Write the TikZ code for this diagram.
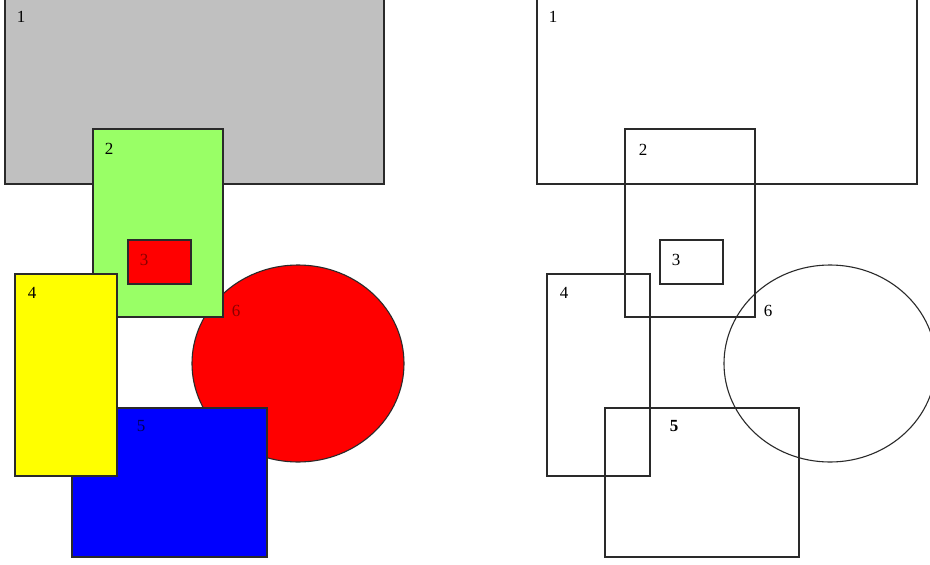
\documentclass[tikz,border=0pt]{standalone}
\usepackage{fontspec}
\setmainfont{Liberation Serif}
\definecolor{shapegray}{HTML}{C0C0C0}
\definecolor{shapegreen}{HTML}{99FF66}
\definecolor{shapered}{HTML}{FF0000}
\definecolor{shapeyellow}{HTML}{FFFF00}
\definecolor{shapeblue}{HTML}{0000FF}
\definecolor{edgecol}{HTML}{2A2A2A}
\definecolor{darkredtxt}{HTML}{8A0000}
\definecolor{darkbluetxt}{HTML}{00005A}
\tikzset{
  shapebox/.style={draw=edgecol, line width=1.3pt, rectangle, inner sep=0pt, outer sep=0pt, anchor=north west},
  shapelabel/.style={font=\fontsize{17}{17}\selectfont, inner sep=0pt, anchor=center, text=black},
}
\begin{document}
\begin{tikzpicture}[x=1pt,y=-1pt]
\useasboundingbox (0,0) rectangle (930,565);
\fill[white] (0,0) rectangle (930,565);
% ---------- left panel ----------
\node[shapebox, fill=shapegray, minimum width=379pt, minimum height=186pt] (L1) at (5,-2) {};
\draw[edgecol, line width=1.1pt, fill=shapered] (298,363.5) ellipse [x radius=106, y radius=98.5];
\node[shapebox, fill=shapegreen, minimum width=130pt, minimum height=188pt] (L2) at (93,129) {};
\node[shapebox, fill=shapered, minimum width=63pt, minimum height=44pt] (L3) at (128,240) {};
\node[shapebox, fill=shapeblue, minimum width=195pt, minimum height=149pt] (L5) at (72,408) {};
\node[shapebox, fill=shapeyellow, minimum width=102pt, minimum height=202pt] (L4) at (15,274) {};
\node[shapelabel] (l1) at (21,17) {1};
\node[shapelabel] (l2) at (109,149) {2};
\node[shapelabel, text=darkredtxt] (l3) at (144,260) {3};
\node[shapelabel] (l4) at (32,293) {4};
\node[shapelabel, text=darkbluetxt] (l5) at (141,426) {5};
\node[shapelabel, text=darkredtxt] (l6) at (236,311) {6};
% ---------- right panel ----------
\node[shapebox, minimum width=380pt, minimum height=186pt] (R1) at (537,-2) {};
\draw[edgecol, line width=1.1pt] (830,363.5) ellipse [x radius=106, y radius=98.5];
\node[shapebox, minimum width=130pt, minimum height=188pt] (R2) at (625,129) {};
\node[shapebox, minimum width=63pt, minimum height=44pt] (R3) at (660,240) {};
\node[shapebox, minimum width=194pt, minimum height=149pt] (R5) at (605,408) {};
\node[shapebox, minimum width=103pt, minimum height=202pt] (R4) at (547,274) {};
\node[shapelabel] (r1) at (553,17) {1};
\node[shapelabel] (r2) at (643,150) {2};
\node[shapelabel] (r3) at (676,260) {3};
\node[shapelabel] (r4) at (564,293) {4};
\node[shapelabel, font=\fontsize{17}{17}\selectfont\bfseries] (r5) at (674,426) {5};
\node[shapelabel] (r6) at (768,311) {6};
\end{tikzpicture}
\end{document}
